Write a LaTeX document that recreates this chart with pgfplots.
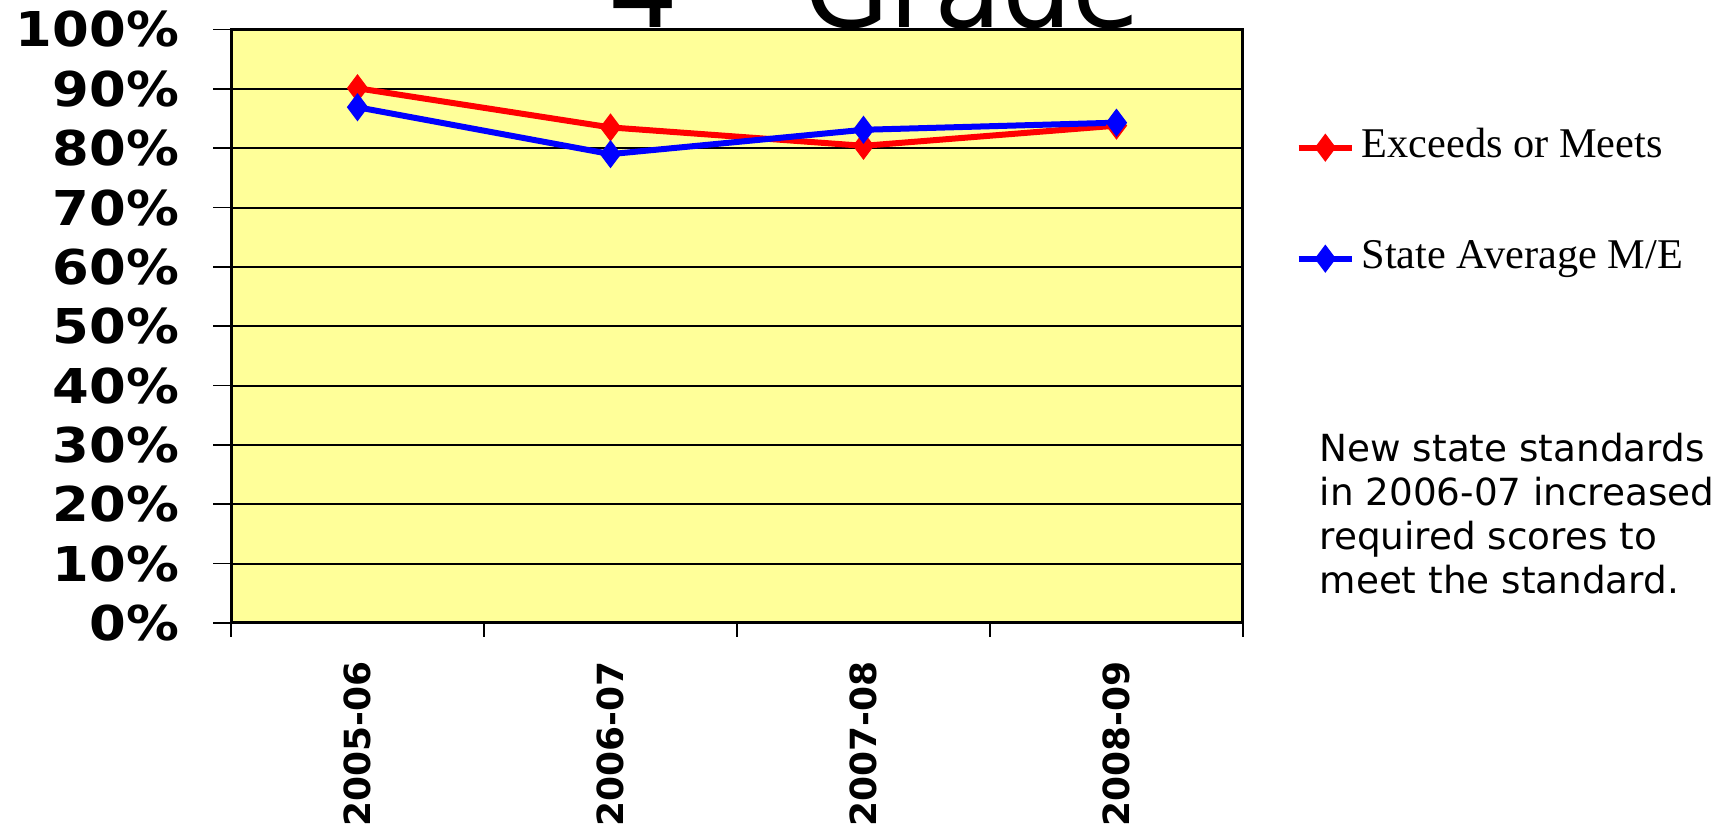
\documentclass[border=0pt]{standalone}
\usepackage{pgfplots}
\pgfplotsset{compat=1.18}
\usepackage{fontspec}
\setmainfont{DejaVu Sans}
\newfontfamily\serif{Liberation Serif}
\definecolor{plotbg}{HTML}{FFFF99}

\begin{document}
\begin{tikzpicture}
% page = 1732 x 838 px, 1 px = 0.3pt
\path[use as bounding box, clip] (0,0) rectangle (519.6pt,251.4pt);
\fill[white] (0,0) rectangle (519.6pt,251.4pt);
% big title, cut off by the top edge as in the slide
\node[anchor=base west, inner sep=0pt, font=\fontsize{33}{36}\selectfont] at (182.2pt,243pt)
  {4\makebox[37.9pt][l]{\textsuperscript{th}}Grade};

\begin{axis}[
  at={(69.3pt,64.5pt)}, anchor=south west,
  scale only axis, width=303.6pt, height=178.05pt,
  xmin=-0.5, xmax=3.5, ymin=0, ymax=100,
  xtick={0,1,2,3},
  xticklabels={2005-06,2006-07,2007-08,2008-09},
  minor xtick={-0.5,0.5,1.5,2.5,3.5},
  every major x tick/.style={draw=none},
  ytick={0,10,...,100},
  yticklabel={\pgfmathparse{int(\tick)}\pgfmathresult\%},
  tick align=outside, tick pos=left,
  major tick length=5.4pt, minor tick length=4.2pt,
  tick style={black, line width=0.5pt},
  ymajorgrids, grid style={black, line width=0.6pt},
  axis line style={line width=0.9pt},
  axis background/.style={fill=plotbg},
  xticklabel style={rotate=90, anchor=east, inner sep=0pt,
    font=\bfseries\fontsize{10.8}{12}\selectfont},
  xticklabel shift=6pt,
  yticklabel style={anchor=east, inner sep=0pt, xscale=1.1,
    font=\bfseries\fontsize{14.4}{16}\selectfont},
  yticklabel shift=10pt,
  legend style={at={(axis description cs:1.0514,0.8357)}, anchor=north west,
    draw=none, fill=none, inner sep=0pt, row sep=21.3pt, column sep=2pt,
    nodes={inner sep=0pt, text height=9pt, text depth=3pt,
      font=\serif\fontsize{12.7}{14}\selectfont}},
  legend cell align=left,
  legend image code/.code={\draw[mark repeat=2,mark phase=2,#1]
    plot coordinates {(0pt,0pt) (8pt,0pt) (16pt,0pt)};},
]
\addplot[red, line width=1.8pt, mark=diamond*, mark size=4pt,
  mark options={line width=0.3pt}]
  coordinates {(0,90.1) (1,83.5) (2,80.4) (3,83.8)};
\addlegendentry{Exceeds or Meets}
\addplot[blue, line width=1.8pt, mark=diamond*, mark size=4pt,
  mark options={line width=0.3pt}]
  coordinates {(0,86.9) (1,79.0) (2,83.1) (3,84.3)};
\addlegendentry{State Average M/E}
\end{axis}

% base of a multi-line node is the last line's baseline
\node[anchor=base west, align=left, inner sep=0pt,
  font=\fontsize{11.2}{13.2}\selectfont] at (395.7pt,73.2pt)
  {New state standards\\in 2006-07 increased\\required scores to\\meet the standard.};
\end{tikzpicture}
\end{document}
